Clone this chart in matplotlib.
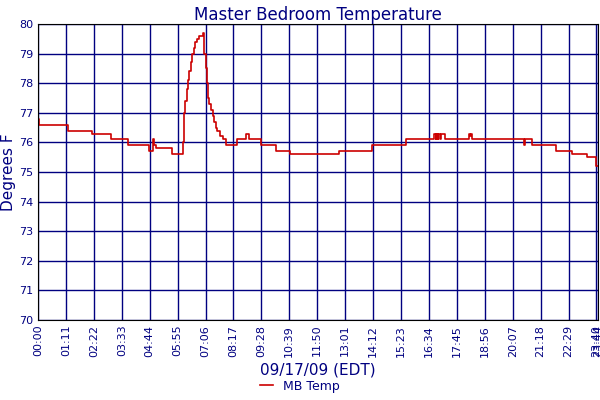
import matplotlib
matplotlib.use("Agg")
import matplotlib.pyplot as plt

# minutes since midnight, temperature (step changes)
times = [0, 2, 76, 137, 185, 228, 282, 292, 296, 300, 305, 340, 368, 370, 372, 375, 378, 381, 384, 388, 392, 396, 400, 405, 410, 415, 419, 421, 423, 426, 429, 432, 436, 440, 444, 448, 452, 456, 462, 470, 477,
         505, 529, 531, 536, 566, 604, 640, 766, 850, 937,
         1008, 1011, 1013, 1016, 1018, 1022, 1024, 1030, 1034, 1036, 1097, 1099, 1101, 1103,
         1236, 1239, 1242, 1251, 1256, 1317, 1358, 1396, 1419, 1424]
temps = [76.8, 76.6, 76.4, 76.3, 76.1, 75.9, 75.7, 76.1, 75.9, 75.8, 75.8, 75.6, 76.0, 76.5, 77.0, 77.4, 77.8, 78.1, 78.4, 78.7, 79.0, 79.2, 79.4, 79.5, 79.6, 79.6, 79.7, 79.4, 79.0, 78.5, 78.0, 77.5, 77.3, 77.1, 76.9, 76.7, 76.5, 76.4, 76.2, 76.1, 75.9,
         76.1, 76.3, 76.3, 76.1, 75.9, 75.7, 75.6, 75.7, 75.9, 76.1,
         76.3, 76.1, 76.3, 76.1, 76.3, 76.1, 76.3, 76.3, 76.1, 76.1, 76.3, 76.2, 76.3, 76.1,
         75.9, 76.1, 76.1, 76.1, 75.9, 75.7, 75.6, 75.5, 75.2, 75.2]

tick_pos = list(range(0, 1421, 71)) + [1424]
tick_labels = [f"{t//60:02d}:{t%60:02d}" for t in tick_pos]

navy = "#000080"
fig = plt.figure(figsize=(6, 4), dpi=100)
ax = fig.add_axes([38/600, 80/400, 560/600, 296/400])
ax.step(times, temps, where="post", color="#cc0000", lw=1.2, label="MB Temp")
ax.set_xlim(0, 1424)
ax.set_ylim(70, 80)
ax.set_yticks(range(70, 81))
ax.set_xticks(tick_pos)
ax.set_xticklabels(tick_labels, rotation=90, fontsize=8, color=navy)
ax.tick_params(axis="y", labelsize=8, labelcolor=navy, length=0)
ax.tick_params(axis="x", length=0)
ax.grid(True, color=navy, lw=1)
for s in ax.spines.values():
    s.set_color("black")
ax.set_title("Master Bedroom Temperature", color=navy, fontsize=12, pad=3)
ax.set_ylabel("Degrees F", color=navy, fontsize=11, labelpad=2)
ax.set_xlabel("09/17/09 (EDT)", color=navy, fontsize=11, labelpad=4)
fig.legend(loc="lower center", bbox_to_anchor=(0.5, -0.01), frameon=False, fontsize=9, handlelength=1, labelcolor=navy)
fig.savefig("out.png", dpi=100)
